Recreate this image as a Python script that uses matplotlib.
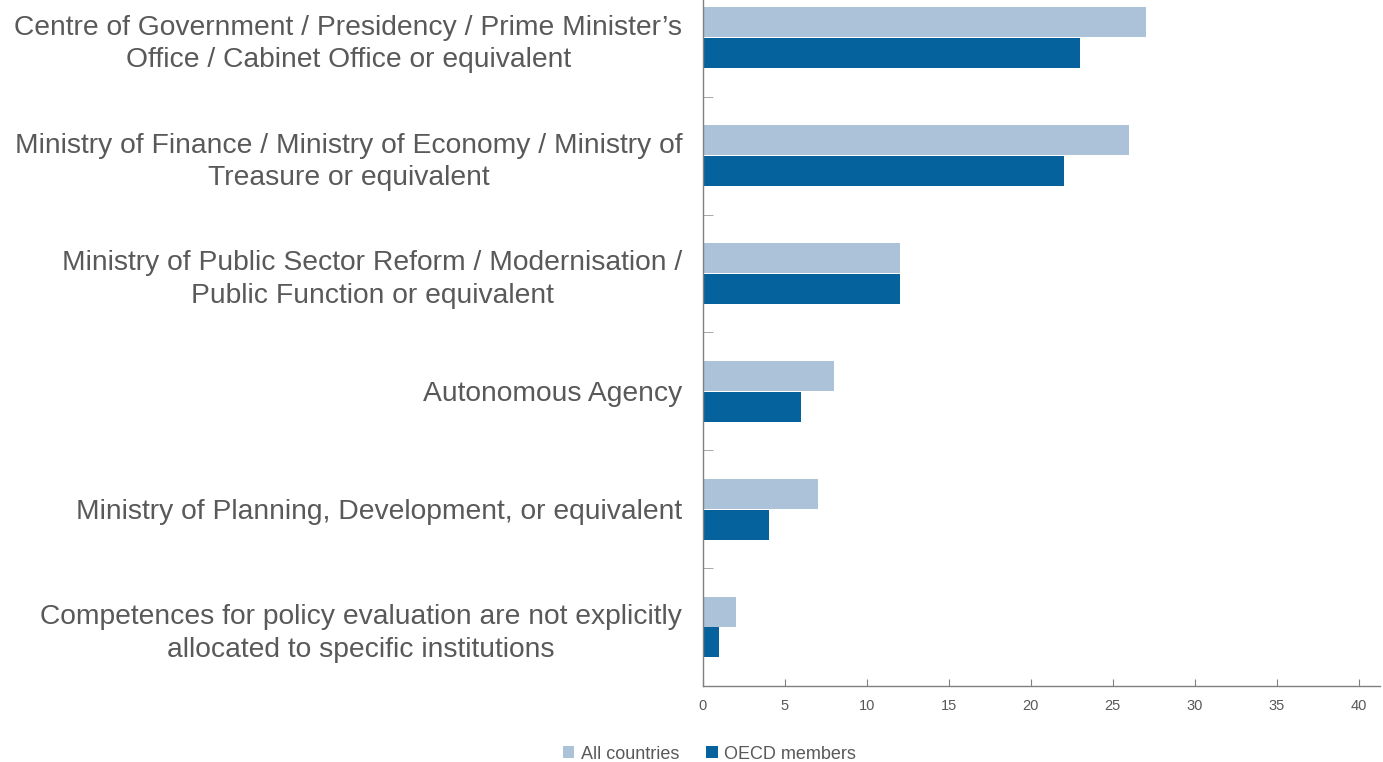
import numpy as np
import matplotlib.pyplot as plt

categories = [
    "Centre of Government / Presidency / Prime Minister\u2019s\nOffice / Cabinet Office or equivalent",
    "Ministry of Finance / Ministry of Economy / Ministry of\nTreasure or equivalent",
    "Ministry of Public Sector Reform / Modernisation /\nPublic Function or equivalent",
    "Autonomous Agency",
    "Ministry of Planning, Development, or equivalent",
    "Competences for policy evaluation are not explicitly\nallocated to specific institutions",
]
all_countries = [27, 26, 12, 8, 7, 2]
oecd_members = [23, 22, 12, 6, 4, 1]
series_names = ["All countries", "OECD members"]

plt.rcParams["font.family"] = ["Liberation Sans", "DejaVu Sans"]

fig = plt.figure(figsize=(13.83, 7.62), dpi=100)
ax = fig.add_axes([0.5083, 0.0997, 0.4895, 0.9003])

y = np.arange(len(categories))
h = 0.255
ax.barh(y - 0.13, all_countries, height=h, color="#abc2d9", label=series_names[0])
ax.barh(y + 0.13, oecd_members, height=h, color="#05629c", label=series_names[1])

ax.set_xlim(0, 41.3)
ax.set_ylim(5.5, -0.32)
ax.set_xticks(range(0, 45, 5))
ax.set_yticks(y)
ax.set_yticklabels(categories, fontsize=20.3, color="#595959",
                   multialignment="center", linespacing=1.33)
ax.set_yticks(y[:-1] + 0.5, minor=True)
ax.tick_params(axis="y", which="major", length=0, pad=15)
ax.tick_params(axis="y", which="minor", length=7, direction="in", color="#999999")
ax.tick_params(axis="x", direction="in", length=5, color="#808080",
               labelsize=10.5, labelcolor="#595959", pad=9)

for s in ["top", "right"]:
    ax.spines[s].set_visible(False)
for s in ["left", "bottom"]:
    ax.spines[s].set_color("#808080")
    ax.spines[s].set_linewidth(1.0)

fig.legend(loc="lower center", bbox_to_anchor=(0.513, -0.022), ncol=2, frameon=False,
           fontsize=13, labelcolor="#595959", handlelength=0.65, handleheight=0.65,
           handletextpad=0.35, columnspacing=1.5)

fig.savefig("out.png", dpi=100)
